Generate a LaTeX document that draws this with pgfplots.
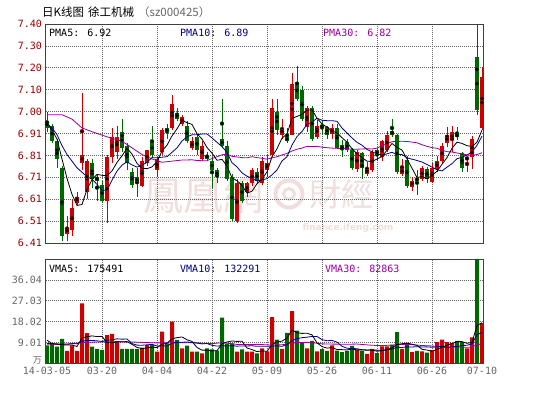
\documentclass[border=0pt]{standalone}
\usepackage{pgfplots}
\pgfplotsset{compat=1.18}
\usepackage{pgfplotstable}
\usepackage{fontspec}
\newfontfamily\mono{DejaVu Sans Mono}
\newfontfamily\cjk{Noto Sans CJK SC}
\newfontfamily\cjktc{Noto Sans CJK TC}
\definecolor{cred}{RGB}{204,0,0}
\definecolor{cgreen}{RGB}{0,102,0}
\definecolor{cnavy}{RGB}{0,0,128}
\definecolor{cpurple}{RGB}{153,0,153}
\definecolor{lblred}{RGB}{153,0,0}
\definecolor{lblgray}{RGB}{102,102,102}
\definecolor{wm}{RGB}{240,222,222}

% red (rising) candles: index open high low close volume(10^4)
\pgfplotstableread{
i o h l c v
4 6.45 6.53 6.42 6.48 5.4
5 6.47 6.61 6.44 6.57 7.7
6 6.59 6.64 6.58 6.62 5.4
7 6.77 7.09 6.74 6.81 25.9
8 6.64 6.79 6.61 6.78 13.0
12 6.60 6.81 6.50 6.80 12.2
13 6.80 6.93 6.77 6.89 12.7
14 6.82 6.94 6.79 6.89 9.6
19 6.67 6.80 6.665 6.78 6.8
20 6.77 6.83 6.76 6.83 7.9
22 6.74 6.80 6.71 6.79 5.0
23 6.82 6.93 6.81 6.92 13.7
25 6.93 7.08 6.92 7.04 18.0
27 6.95 6.99 6.94 6.98 6.5
29 6.84 6.89 6.83 6.87 5.0
31 6.79 6.87 6.78 6.85 4.3
38 6.51 6.70 6.50 6.68 5.0
40 6.64 6.685 6.62 6.68 5.0
41 6.68 6.75 6.67 6.74 5.0
43 6.68 6.80 6.67 6.78 6.5
44 6.74 6.81 6.71 6.77 5.1
45 6.81 7.06 6.80 7.02 19.9
47 6.90 6.97 6.88 6.93 6.2
49 6.90 7.18 6.90 7.13 22.5
52 6.935 7.03 6.91 7.02 6.5
54 6.89 6.965 6.88 6.94 5.1
57 6.905 6.95 6.88 6.93 7.7
62 6.745 6.83 6.73 6.82 5.8
64 6.72 6.775 6.715 6.75 4.1
65 6.74 6.83 6.73 6.82 6.2
67 6.80 6.875 6.78 6.87 7.3
68 6.83 6.915 6.82 6.90 7.3
71 6.72 6.79 6.715 6.75 6.2
73 6.665 6.71 6.645 6.69 4.8
75 6.70 6.76 6.69 6.75 5.1
77 6.685 6.77 6.68 6.75 5.8
78 6.745 6.805 6.73 6.78 9.1
79 6.78 6.86 6.77 6.85 10.2
80 6.86 6.935 6.845 6.90 9.1
81 6.875 6.94 6.82 6.91 8.7
84 6.785 6.805 6.73 6.80 6.5
85 6.80 6.895 6.745 6.88 11.2
87 6.93 7.205 6.92 7.16 17.4
}\redtab

% green (falling) candles
\pgfplotstableread{
i o h l c v
0 6.96 7.00 6.91 6.93 7.7
1 6.94 6.95 6.86 6.87 8.7
2 6.87 6.88 6.75 6.79 7.2
3 6.75 6.76 6.42 6.44 10.5
9 6.77 6.79 6.66 6.70 7.2
10 6.71 6.72 6.60 6.69 6.2
11 6.67 6.69 6.59 6.60 5.8
15 6.91 6.97 6.82 6.84 6.2
16 6.85 6.86 6.74 6.77 6.2
17 6.73 6.75 6.66 6.67 6.2
18 6.71 6.75 6.62 6.68 6.2
21 6.87 6.94 6.80 6.81 7.9
24 6.93 6.95 6.88 6.91 8.6
26 7.00 7.02 6.96 6.97 10.1
28 6.94 6.96 6.86 6.87 7.6
30 6.89 6.90 6.81 6.83 5.0
32 6.81 6.82 6.78 6.79 6.5
33 6.78 6.80 6.66 6.74 6.0
34 6.74 6.75 6.68 6.71 5.5
35 6.88 7.06 6.84 6.85 19.7
36 6.85 6.87 6.69 6.70 8.4
37 6.71 6.72 6.51 6.52 8.6
39 6.68 6.69 6.59 6.60 6.0
42 6.73 6.75 6.68 6.69 4.3
46 7.00 7.06 6.90 6.92 10.2
48 6.89 6.93 6.86 6.87 13.1
50 7.14 7.21 7.05 7.06 14.1
51 7.10 7.12 6.96 6.97 8.7
53 7.02 7.03 6.87 6.88 9.7
55 6.945 6.965 6.90 6.93 6.1
56 6.935 6.94 6.88 6.90 5.4
58 6.93 6.95 6.835 6.84 5.5
59 6.855 6.875 6.80 6.83 4.8
60 6.865 6.88 6.82 6.83 5.4
61 6.83 6.84 6.74 6.75 7.5
63 6.815 6.82 6.70 6.75 5.4
66 6.83 6.84 6.78 6.81 4.4
69 6.915 6.97 6.89 6.90 8.0
70 6.90 6.905 6.72 6.73 13.5
72 6.785 6.805 6.66 6.67 8.7
74 6.705 6.74 6.625 6.69 5.4
76 6.745 6.755 6.68 6.70 4.6
82 6.905 6.935 6.875 6.89 9.7
83 6.815 6.82 6.73 6.75 9.1
86 7.25 7.40 6.99 7.01 45.05
}\greentab

% price moving averages (5, 10)
\pgfplotstableread{
i ma5 ma10
0 6.95 6.95
1 6.92 6.93
2 6.88 6.90
3 6.79 6.85
4 6.702 6.81
5 6.630 6.78
6 6.580 6.75
7 6.584 6.73
8 6.652 6.71
9 6.696 6.699
10 6.720 6.675
11 6.716 6.648
12 6.714 6.649
13 6.736 6.694
14 6.774 6.735
15 6.804 6.762
16 6.838 6.777
17 6.812 6.763
18 6.770 6.753
19 6.748 6.761
20 6.746 6.775
21 6.754 6.796
22 6.778 6.795
23 6.826 6.798
24 6.852 6.800
25 6.894 6.820
26 6.926 6.840
27 6.964 6.871
28 6.954 6.890
29 6.946 6.899
30 6.904 6.899
31 6.880 6.903
32 6.842 6.903
33 6.816 6.885
34 6.784 6.865
35 6.788 6.846
36 6.758 6.819
37 6.704 6.773
38 6.692 6.754
39 6.670 6.727
40 6.636 6.712
41 6.644 6.701
42 6.678 6.691
43 6.698 6.695
44 6.732 6.701
45 6.800 6.718
46 6.836 6.740
47 6.884 6.781
48 6.902 6.800
49 6.974 6.853
50 6.982 6.891
51 6.992 6.914
52 7.010 6.947
53 7.012 6.957
54 6.974 6.974
55 6.948 6.965
56 6.934 6.963
57 6.916 6.963
58 6.908 6.960
59 6.886 6.930
60 6.866 6.907
61 6.836 6.885
62 6.814 6.865
63 6.796 6.852
64 6.780 6.833
65 6.778 6.822
66 6.790 6.813
67 6.800 6.807
68 6.830 6.813
69 6.860 6.820
70 6.842 6.810
71 6.830 6.810
72 6.790 6.795
73 6.748 6.789
74 6.706 6.783
75 6.710 6.776
76 6.700 6.765
77 6.716 6.753
78 6.734 6.741
79 6.766 6.736
80 6.796 6.753
81 6.838 6.769
82 6.866 6.791
83 6.860 6.797
84 6.850 6.808
85 6.846 6.821
86 6.866 6.852
87 6.920 6.893
}\matab

% price moving average 30
\pgfplotstableread{
i m
0 6.99
3 6.99
5 6.97
7 6.93
10 6.905
12 6.89
15 6.87
17 6.84
19 6.81
21 6.79
23 6.775
25 6.78
27 6.785
29 6.786
30 6.783
31 6.782
32 6.782
33 6.792
34 6.800
35 6.809
36 6.812
37 6.802
38 6.799
39 6.796
40 6.795
41 6.800
42 6.796
43 6.793
44 6.789
45 6.795
46 6.800
47 6.808
48 6.815
49 6.826
50 6.834
51 6.839
52 6.847
53 6.846
54 6.847
55 6.843
56 6.841
57 6.839
58 6.838
59 6.837
60 6.837
61 6.833
62 6.834
63 6.835
64 6.836
65 6.835
66 6.839
67 6.850
68 6.858
69 6.868
70 6.869
71 6.870
72 6.869
73 6.866
74 6.863
75 6.854
76 6.847
77 6.841
78 6.838
79 6.829
80 6.823
81 6.821
82 6.817
83 6.813
84 6.808
85 6.806
86 6.810
87 6.818
}\mathirty

% volume moving averages (5, 10), 10^4
\pgfplotstableread{
i v5 v10
0 10.0 8.6
1 8.5 8.5
2 8.2 8.4
3 8.0 8.3
4 7.9 8.3
5 7.9 8.5
6 7.24 8.4
7 10.98 9.5
8 11.48 9.9
9 11.84 9.87
10 11.54 9.72
11 11.62 9.43
12 8.88 9.93
13 8.82 10.15
14 9.3 10.57
15 9.3 10.42
16 9.38 10.5
17 8.18 8.53
18 6.88 7.85
19 6.32 7.81
20 6.66 7.98
21 7.0 8.19
22 6.76 7.47
23 8.26 7.57
24 8.62 7.47
25 10.64 8.65
26 11.08 9.04
27 11.38 9.07
28 10.16 9.21
29 9.44 9.03
30 6.84 8.74
31 5.68 8.38
32 5.68 8.53
33 5.36 7.76
34 5.46 7.45
35 8.4 7.62
36 9.22 7.45
37 9.64 7.66
38 9.44 7.4
39 9.54 7.5
40 6.6 7.5
41 5.92 7.57
42 5.06 7.35
43 5.36 7.4
44 5.18 7.36
45 8.16 7.38
46 9.2 7.56
47 9.58 7.32
48 10.9 8.13
49 14.38 9.78
50 13.22 10.69
51 12.92 11.06
52 12.98 11.28
53 12.3 11.6
54 8.82 11.6
55 7.22 10.22
56 6.56 9.74
57 6.8 9.89
58 5.96 9.13
59 5.9 7.36
60 5.76 6.49
61 6.18 6.37
62 5.8 6.3
63 5.78 5.87
64 5.64 5.77
65 5.8 5.78
66 5.18 5.68
67 5.48 5.64
68 5.86 5.82
69 6.64 6.14
70 8.1 6.95
71 8.46 6.82
72 8.74 7.11
73 8.24 7.05
74 7.72 7.18
75 6.04 7.07
76 5.72 7.09
77 5.14 6.94
78 6.0 7.12
79 6.96 7.34
80 7.76 6.9
81 8.58 7.15
82 9.36 7.25
83 9.36 7.68
84 8.62 7.79
85 9.04 8.4
86 16.31 12.45
87 17.55 13.23
}\vmatab

% volume moving average 30
\pgfplotstableread{
i m
0 8.2
4 8.2
7 9.0
12 9.3
17 9.2
22 8.8
26 8.9
29 8.90
31 8.67
33 8.49
35 8.90
37 8.42
38 8.15
40 8.07
42 8.19
45 7.88
47 8.02
48 8.25
50 8.98
52 9.05
53 8.92
55 8.41
57 8.29
60 8.23
62 8.31
65 7.79
67 7.62
70 8.04
72 8.23
75 7.69
77 7.49
80 6.78
82 7.10
84 6.91
85 7.08
86 8.1
87 8.29
}\vmathirty

\pgfplotsset{
  kline/.style={
    scale only axis, width=438pt, xmin=-0.3, xmax=87.3,
    major tick length=0pt, minor tick num=0,
    axis line style={draw=black!75, line width=0.8pt},
    grid style={draw=black!60, line width=0.6pt, dash pattern=on 1pt off 1pt},
    ticklabel style={font=\mono\fontsize{10}{12}\selectfont},
    xmajorgrids, ymajorgrids, clip=true,
  },
  wick/.style={forget plot, only marks, mark=none, draw=#1,
    error bars/.cd, y dir=both, y explicit, error mark=none,
    error bar style={line width=1pt, draw=#1}},
  body/.style={forget plot, only marks, mark=none, draw=#1,
    error bars/.cd, y dir=both, y explicit, error mark=none,
    error bar style={line width=4pt, draw=#1, line cap=butt}},
}

\begin{document}
\begin{tikzpicture}[x=1pt,y=1pt]
\path[use as bounding box] (0,0) rectangle (534,395);

% title
\node[anchor=west, inner sep=0] at (42,383)
  {\cjk\fontsize{11.5}{13}\selectfont 日K线图\hspace{4pt}徐工机械\hspace{4pt}\textcolor{lblgray}{（sz000425）}};

% watermark
\node[text=wm, inner sep=0, font=\cjktc\fontsize{40}{42}\selectfont] at (203,200) {鳳凰網};
\draw[wm, line width=4pt] (289,201) circle (13.5);
\draw[wm, line width=3pt] (289,201) circle (5.5);
\node[text=wm, inner sep=0, font=\cjktc\fontsize{32}{34}\selectfont] at (341,201) {財經};
\node[text=wm, inner sep=0, font=\fontspec{DejaVu Sans}\bfseries\fontsize{9}{10}\selectfont] at (348,167) {finance.ifeng.com};

% price panel
\begin{axis}[kline, at={(45.5pt,152pt)}, anchor=south west, height=219pt,
  ymin=6.41, ymax=7.40,
  xtick={11,22,33,44,55,66,77}, xticklabels={},
  ytick={6.41,6.509,6.608,6.707,6.806,6.905,7.004,7.103,7.202,7.301,7.40},
  yticklabels={6.41,6.51,6.61,6.71,6.81,6.91,7.00,7.10,7.20,7.30,7.40},
  yticklabel style={text=lblred},
]
\addplot[wick=cgreen] table[x=i, y expr={(\thisrow{h}+\thisrow{l})/2}, y error expr={(\thisrow{h}-\thisrow{l})/2}] {\greentab};
\addplot[body=cgreen] table[x=i, y expr={(\thisrow{o}+\thisrow{c})/2}, y error expr={abs(\thisrow{o}-\thisrow{c})/2}] {\greentab};
\addplot[wick=cred] table[x=i, y expr={(\thisrow{h}+\thisrow{l})/2}, y error expr={(\thisrow{h}-\thisrow{l})/2}] {\redtab};
\addplot[body=cred] table[x=i, y expr={(\thisrow{o}+\thisrow{c})/2}, y error expr={abs(\thisrow{o}-\thisrow{c})/2}] {\redtab};
\addplot[cpurple, line width=0.8pt, mark=none] table[x=i, y=m] {\mathirty};
\addplot[cnavy, line width=0.8pt, mark=none] table[x=i, y=ma10] {\matab};
\addplot[black, line width=0.8pt, mark=none] table[x=i, y=ma5] {\matab};
\end{axis}

% volume panel
\begin{axis}[kline, at={(45.5pt,31.7pt)}, anchor=south west, height=104.3pt,
  ymin=0, ymax=45.05,
  xtick={11,22,33,44,55,66,77},
  xticklabels={03-20,04-04,04-22,05-09,05-26,06-11,06-26},
  extra x ticks={0,87}, extra x tick labels={14-03-05,07-10},
  extra x tick style={grid=none},
  xticklabel style={text=lblgray},
  ytick={0,9.01,18.02,27.03,36.04},
  yticklabels={{\raisebox{7pt}{\cjk\fontsize{9}{10}\selectfont 万}},9.01,18.02,27.03,36.04},
  yticklabel style={text=lblgray},
]
\addplot[ybar, bar width=4pt, bar shift=0pt, fill=cgreen, draw=none, forget plot] table[x=i, y=v] {\greentab};
\addplot[ybar, bar width=4pt, bar shift=0pt, fill=cred, draw=none, forget plot] table[x=i, y=v] {\redtab};
\addplot[cpurple, line width=0.8pt, mark=none] table[x=i, y=m] {\vmathirty};
\addplot[cnavy, line width=0.8pt, mark=none] table[x=i, y=v10] {\vmatab};
\addplot[black, line width=0.8pt, mark=none] table[x=i, y=v5] {\vmatab};
\end{axis}

% legend texts
\begin{scope}[every node/.style={anchor=west, inner sep=0, font=\mono\fontsize{10}{12}\selectfont}]
\node[text=black] at (49,362) {PMA5: 6.92};
\node[text=cnavy] at (180,362) {PMA10: 6.89};
\node[text=cpurple] at (323,362) {PMA30: 6.82};
\node[text=black] at (49,126) {VMA5: 175491};
\node[text=cnavy] at (180,126) {VMA10: 132291};
\node[text=cpurple] at (325,126) {VMA30: 82863};
\end{scope}
\end{tikzpicture}
\end{document}
